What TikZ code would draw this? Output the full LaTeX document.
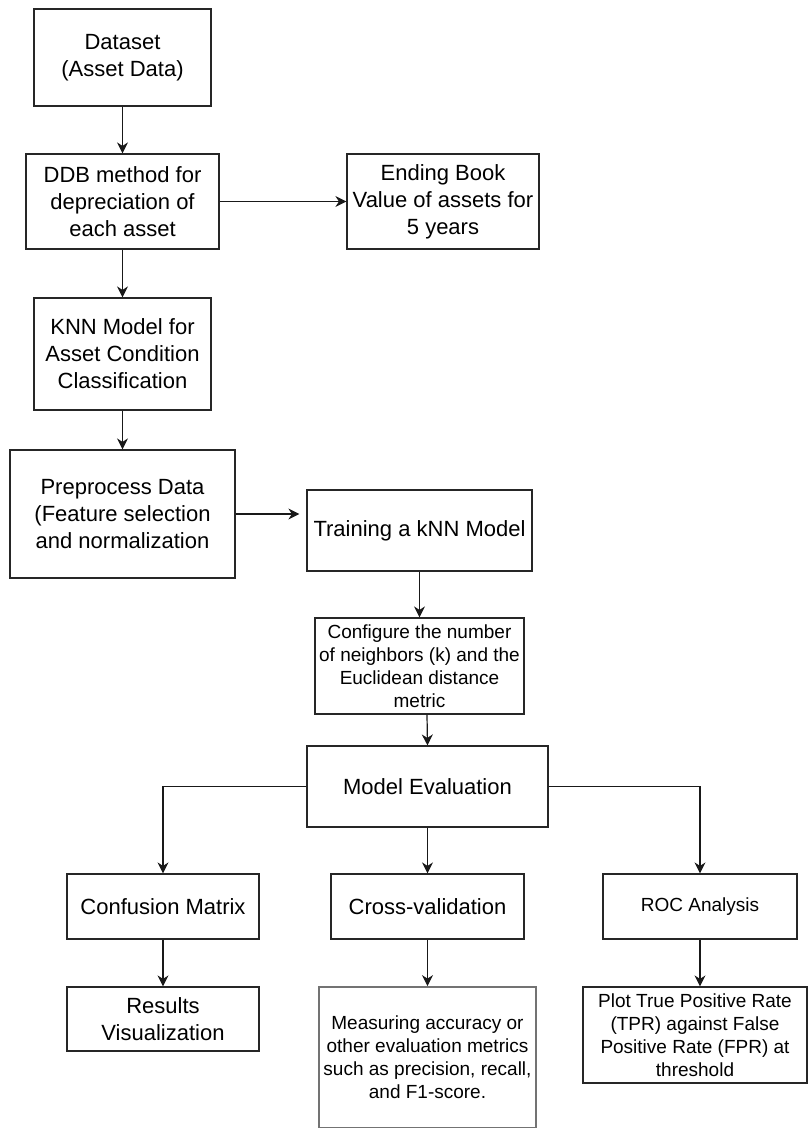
\documentclass[tikz,border=0pt]{standalone}
\usepackage{fontspec}
\setmainfont{Liberation Sans}
\usetikzlibrary{arrows.meta}
\begin{document}
\begin{tikzpicture}[x=1pt,y=-1pt,
  box/.style={draw=black!85, line width=1.2pt, fill=white, align=center, inner sep=0pt,
    font=\fontsize{22}{27}\selectfont},
  smalltext/.style={font=\fontsize{19}{23}\selectfont},
  graybox/.style={draw=black!55, line width=1.8pt},
  arr/.style={-{Stealth[length=11pt,width=11pt,inset=3.5pt]}, line width=1.2pt, draw=black!90}]
\useasboundingbox[fill=white] (0,0) rectangle (810,1128);

\node[box, minimum width=177pt, minimum height=97pt] (ds) at (122.5,57.5) {Dataset\\(Asset Data)};
\node[box, minimum width=193pt, minimum height=95pt] (ddb) at (122.5,201.5) {DDB method for\\depreciation of\\each asset};
\node[box, minimum width=192pt, minimum height=95pt] (ebv) at (443,201.5) {Ending Book\\Value of assets for\\5 years};
\node[box, minimum width=177pt, minimum height=112pt] (knn) at (122.5,354) {KNN Model for\\Asset Condition\\Classification};
\node[box, minimum width=225pt, minimum height=128pt] (pre) at (122.5,514) {Preprocess Data\\(Feature selection\\and normalization};
\node[box, minimum width=225pt, minimum height=81pt] (train) at (419.5,530.5) {Training a kNN Model};
\node[box, smalltext, minimum width=209pt, minimum height=96pt] (cfg) at (419.5,666) {Configure the number\\of neighbors (k) and the\\Euclidean distance\\metric};
\node[box, minimum width=241pt, minimum height=81pt] (me) at (427.5,786.5) {Model Evaluation};
\node[box, minimum width=192pt, minimum height=65pt] (cm) at (163,906.5) {Confusion Matrix};
\node[box, minimum width=193pt, minimum height=65pt] (cv) at (427.5,906.5) {Cross-validation};
\node[box, smalltext, minimum width=194pt, minimum height=65pt] (roc) at (700,906.5) {ROC Analysis};
\node[box, minimum width=192pt, minimum height=64pt] (rv) at (163,1019) {Results\\Visualization};
\node[box, graybox, smalltext, minimum width=217pt, minimum height=141pt] (meas) at (427.5,1057.5) {Measuring accuracy or\\other evaluation metrics\\such as precision, recall,\\and F1-score.};
\node[box, smalltext, minimum width=224pt, minimum height=96pt] (plot) at (695,1035) {Plot True Positive Rate\\(TPR) against False\\Positive Rate (FPR) at\\threshold};

\draw[arr] (ds) -- (ddb);
\draw[arr] (ddb) -- (ebv);
\draw[arr] (ddb) -- (knn);
\draw[arr] (knn) -- (pre);
\draw[arr, shorten >=7pt] (pre.east) -- (pre.east -| train.west);
\draw[arr] (train) -- (cfg);
\draw[arr] ([xshift=7.5pt]cfg.south) -- (me.north);
\draw[arr] (me.west) -| (cm.north);
\draw[arr] (me.east) -| (roc.north);
\draw[arr] (me) -- (cv);
\draw[arr] (cm) -- (rv);
\draw[arr] (cv) -- (meas);
\draw[arr] (roc.south) -- (roc.south |- plot.north);
\end{tikzpicture}
\end{document}
